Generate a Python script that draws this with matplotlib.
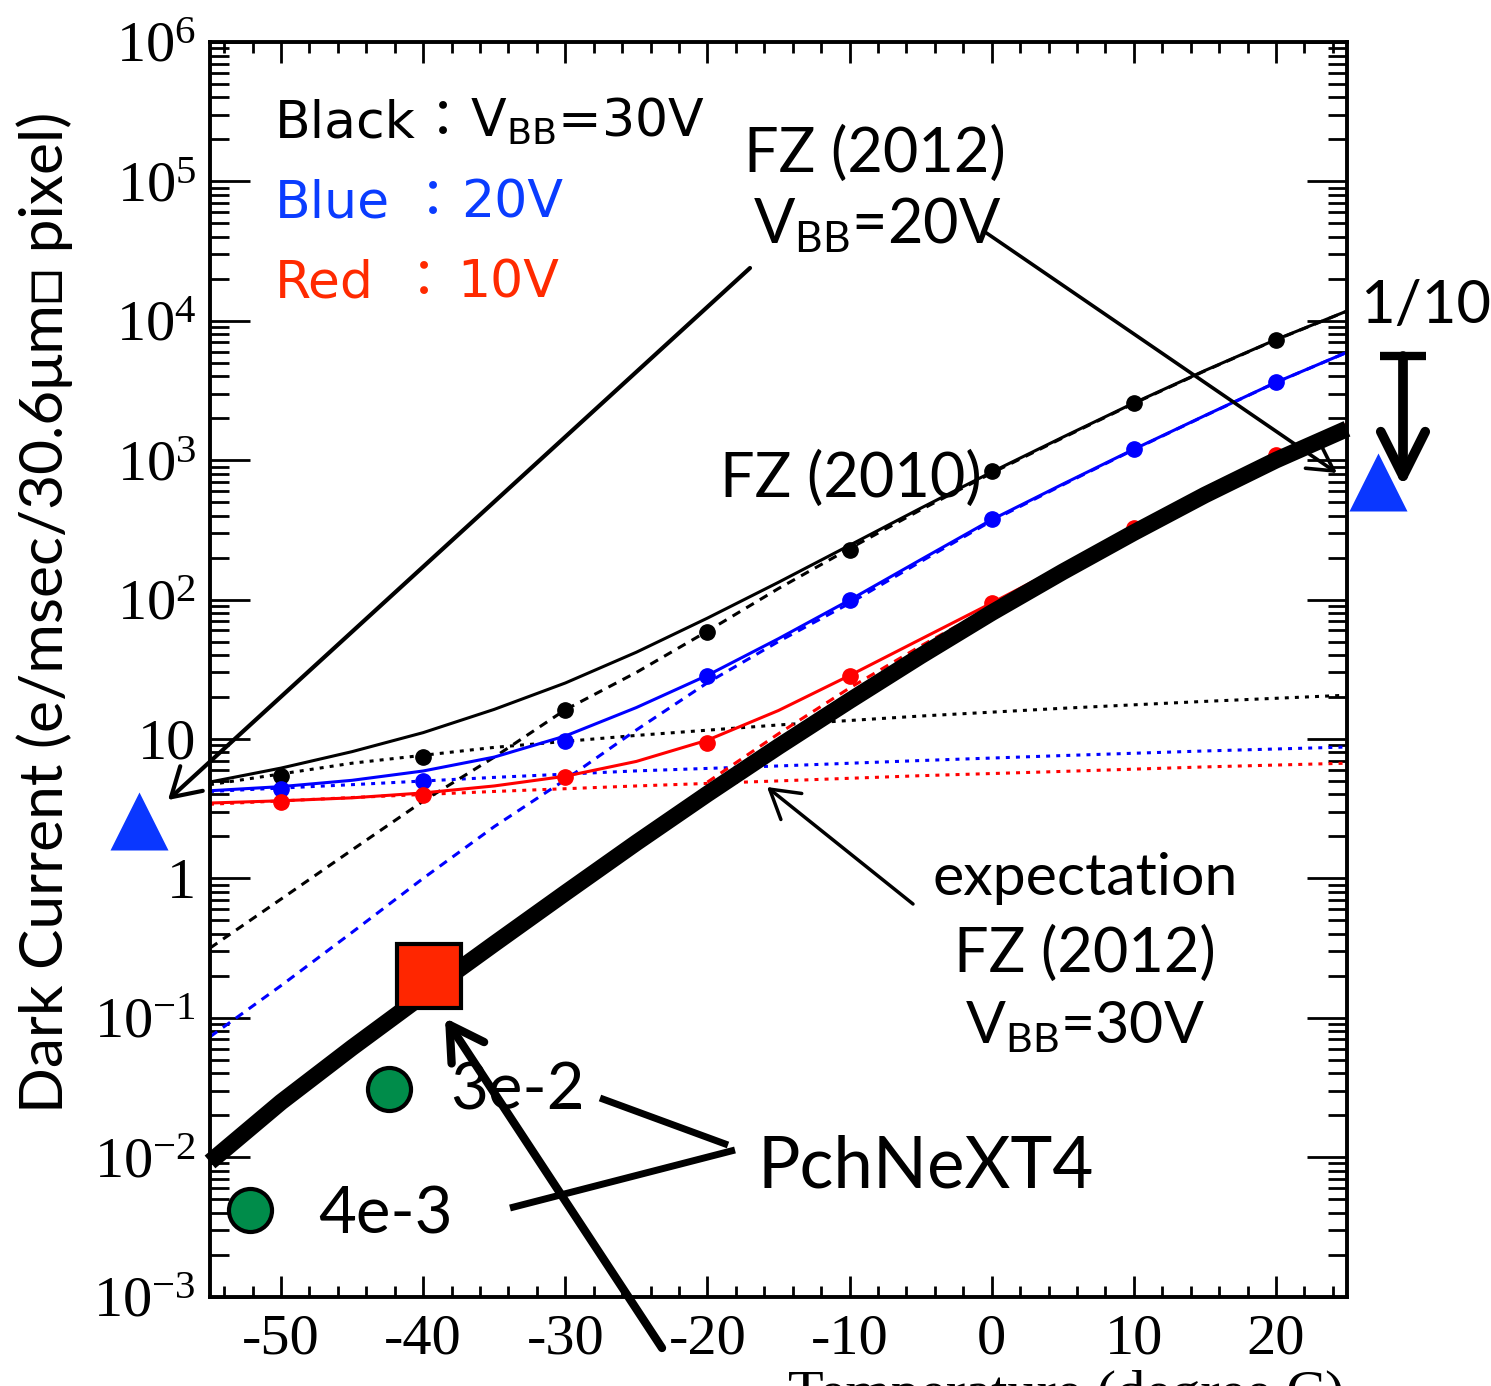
import matplotlib
matplotlib.use("Agg")
from matplotlib import pyplot as plt
from matplotlib.lines import Line2D
from matplotlib.ticker import MultipleLocator, LogLocator, NullFormatter

plt.rcParams['axes.unicode_minus'] = False

W, H = 1491, 1386

# measured points (temperature in degree C, dark current)
temps = [-50, -40, -30, -20, -10, 0, 10, 20]
black_pts = [5.43, 7.42, 16.1, 58.5, 226, 842, 2570, 7280]
blue_pts = [4.37, 4.99, 9.66, 28.3, 99.2, 381, 1202, 3630]
red_pts = [3.53, 3.96, 5.33, 9.35, 28.3, 94.4, 326, 1090]

# fit curves every 5 degrees
fit_t = [-55, -50, -45, -40, -35, -30, -25, -20, -15, -10, -5, 0, 5, 10, 15, 20, 25]
black_fit = [4.91, 6.18, 8.11, 11.1, 16.3, 25.2, 41.9, 73.6, 133, 245, 452, 822, 1462, 2570, 4395, 7328, 11750]
black_exp = [0.316, 0.710, 1.60, 3.58, 7.4, 16.2, 30.0, 59.3, 120, 232, 440, 808, 1445, 2550, 4370, 7300, 11720]
blue_fit = [4.25, 4.55, 5.05, 5.89, 7.41, 10.5, 16.8, 28.6, 52.4, 99.1, 193, 374, 673, 1197, 2089, 3614, 5943]
blue_exp = [0.073, 0.17, 0.41, 1.0, 2.35, 5.1, 11.6, 25.3, 50, 94, 187, 367, 665, 1189, 2081, 3606, 5935]
red_fit = [3.47, 3.6, 3.78, 4.1, 4.6, 5.4, 6.9, 9.8, 16.0, 28.5, 51.9, 94.4, 174, 326, 600, 1088, 1815]
red_exp_t = [-20, -15, -10, -5, 0, 5, 10, 15, 20, 25]
red_exp = [4.9, 10.9, 23.2, 46.4, 88.7, 168, 320, 594, 1082, 1808]

# flat (leakage) components
leak_t = [-55, -45, -35, -25, -15, -5, 5, 15, 25]
black_leak = [4.7, 6.7, 8.7, 10.6, 12.6, 14.6, 16.6, 18.6, 20.6]
blue_leak = [4.2, 4.7, 5.3, 5.9, 6.4, 7.0, 7.6, 8.2, 8.75]
red_leak = [3.4, 3.8, 4.2, 4.6, 5.0, 5.45, 5.85, 6.3, 6.7]

# expectation FZ (2012), VBB=30V
expect = [0.00923, 0.0248, 0.061, 0.145, 0.339, 0.785, 1.80, 4.03, 8.81, 18.8, 39.4, 80.4, 158, 302, 562, 1000, 1679]

square_t, square_v = [-39.6], [0.2]
green_t = [-42.4, -52.2]
green_v = [0.031, 0.0042]
tri_t = [-60.0, 27.2]
tri_v = [2.58, 697]

ytick_vals = [1e-3, 1e-2, 1e-1, 1, 10, 1e2, 1e3, 1e4, 1e5, 1e6]
ytick_labels = [r'$\mathdefault{10^{-3}}$', r'$\mathdefault{10^{-2}}$', r'$\mathdefault{10^{-1}}$',
                '1', '10', r'$\mathdefault{10^{2}}$', r'$\mathdefault{10^{3}}$',
                r'$\mathdefault{10^{4}}$', r'$\mathdefault{10^{5}}$', r'$\mathdefault{10^{6}}$']
xtick_vals = [-50, -40, -30, -20, -10, 0, 10, 20]

SANS = ['Lato', 'DejaVu Sans']
SERIF = 'Liberation Serif'
LEG = 'DejaVu Sans'
JP = ['Noto Sans CJK JP', 'DejaVu Sans']


def fx(x):
    return x / W


def fy(y):
    return 1 - y / H


fig = plt.figure(figsize=(W / 100, H / 100), dpi=100)
ax = fig.add_axes([fx(210), fy(1296.5), (1347 - 210) / W, (1296.5 - 42) / H])
ax.set_yscale('log')
ax.set_xlim(-55, 25)
ax.set_ylim(1e-3, 1e6)

dot = (0, (1.3, 2.0))
dash = (0, (2.9, 2.3))
lw = 2.2
for leak, c in [(black_leak, 'black'), (blue_leak, 'blue'), (red_leak, 'red')]:
    ax.plot(leak_t, leak, color=c, lw=lw, ls=dot)
ax.plot(fit_t, black_exp, color='black', lw=lw, ls=dash)
ax.plot(fit_t, blue_exp, color='blue', lw=lw, ls=dash)
ax.plot(red_exp_t, red_exp, color='red', lw=lw, ls=dash)
ax.plot(fit_t, black_fit, color='black', lw=lw)
ax.plot(fit_t, blue_fit, color='blue', lw=lw)
ax.plot(fit_t, red_fit, color='red', lw=lw)

ax.plot(temps, black_pts, 'o', color='black', ms=11)
ax.plot(temps, blue_pts, 'o', color='blue', ms=11)
ax.plot(temps, red_pts, 'o', color='red', ms=11)

ax.plot(fit_t, expect, color='black', lw=12, solid_capstyle='butt', clip_on=False, zorder=4)
ax.plot(square_t, square_v, 's', ms=46, mfc='#ff2600', mec='black', mew=3, zorder=5)
ax.plot(green_t, green_v, 'o', ms=31, mfc='#008c4a', mec='black', mew=3, zorder=5)
ax.plot(tri_t, tri_v, '^', ms=42, color='#0a37ff', mec='none', clip_on=False, zorder=5)

# ROOT style axes
for s in ax.spines.values():
    s.set_linewidth(2.8)
ax.xaxis.set_minor_locator(MultipleLocator(2))
ax.yaxis.set_minor_locator(LogLocator(base=10, subs=range(2, 10), numticks=50))
ax.yaxis.set_minor_formatter(NullFormatter())
ax.set_xticks(xtick_vals)
ax.set_yticks(ytick_vals, ytick_labels)
ax.tick_params(which='both', direction='in', top=True, right=True, width=2,
               labelsize=42, labelfontfamily=SERIF)
ax.tick_params(axis='x', which='major', length=15, pad=12)
ax.tick_params(axis='x', which='minor', length=8)
ax.tick_params(axis='y', which='major', length=29, pad=10)
ax.tick_params(axis='y', which='minor', length=14)

fig.text(fx(1345), fy(1410), 'Temperature (degree C)', family=SERIF, fontsize=42,
         ha='right', va='baseline')
fig.text(fx(45), fy(612), 'Dark Current (e/msec/30.6\u03bcm\u25a1 pixel)', family=SANS,
         fontsize=43.5, rotation=90, ha='center', va='center')

# colour legend: name, colon, value
for name, val, c, y, xc, xv in [('Black', '$\\mathdefault{V_{BB}}$=30V', 'black', 137, 443, 470),
                                ('Blue', '20V', '#0a3cff', 217, 433, 461),
                                ('Red', '10V', '#ff2a00', 297, 424, 457)]:
    fig.text(fx(275), fy(y), name, family=LEG, fontsize=37.5, color=c, va='baseline')
    fig.text(fx(xc), fy(y), '\uff1a', family=JP, fontsize=37.5, color=c, ha='center', va='baseline')
    fig.text(fx(xv), fy(y), val, family=LEG, fontsize=37.5, color=c, va='baseline')

fs = 44
fig.text(fx(875), fy(172), 'FZ (2012)', family=SANS, fontsize=fs, ha='center', va='baseline')
fig.text(fx(877), fy(243), '$\\mathdefault{V_{BB}}$=20V', family=SANS, fontsize=fs, ha='center', va='baseline')
fig.text(fx(851), fy(497), 'FZ (2010)', family=SANS, fontsize=fs, ha='center', va='baseline')
fig.text(fx(1426), fy(323), '1/10', family=SANS, fontsize=43, ha='center', va='baseline')
fig.text(fx(1085), fy(895), 'expectation', family=SANS, fontsize=42.5, ha='center', va='baseline')
fig.text(fx(1085), fy(972), 'FZ (2012)', family=SANS, fontsize=fs, ha='center', va='baseline')
fig.text(fx(1085), fy(1043), '$\\mathdefault{V_{BB}}$=30V', family=SANS, fontsize=42.5, ha='center', va='baseline')
fig.text(fx(450), fy(1110), '3e-2', family=SANS, fontsize=47, va='baseline')
fig.text(fx(318), fy(1233), '4e-3', family=SANS, fontsize=47, va='baseline')
fig.text(fx(758), fy(1188), 'PchNeXT4', family=SANS, fontsize=51, va='baseline')


def arrow(tail, head, width, hl, hw):
    ax.annotate('', xy=(fx(head[0]), fy(head[1])), xycoords='figure fraction',
                xytext=(fx(tail[0]), fy(tail[1])), textcoords='figure fraction',
                annotation_clip=False,
                arrowprops=dict(arrowstyle='->, head_length=%g, head_width=%g' % (hl, hw),
                                lw=width, color='black', shrinkA=0, shrinkB=0,
                                mutation_scale=20))


def line(xs, ys, width):
    fig.add_artist(Line2D([fx(v) for v in xs], [fy(v) for v in ys], color='black',
                          lw=width, transform=fig.transFigure, solid_capstyle='butt'))


arrow((750, 268), (168, 800), 3, 1.0, 0.6)
arrow((985, 232), (1337, 473), 2.6, 0.9, 0.5)
arrow((913, 904), (767, 787), 2.5, 1.0, 0.6)
arrow((662, 1348), (445, 1018), 6, 1.2, 0.7)
arrow((1403, 356), (1403, 487), 7, 1.6, 0.8)
line([1380, 1426], [356, 356], 6)
line([600, 728], [1098, 1145], 5)
line([510, 735], [1208, 1150], 5)

fig.savefig('out.png', dpi=100)
